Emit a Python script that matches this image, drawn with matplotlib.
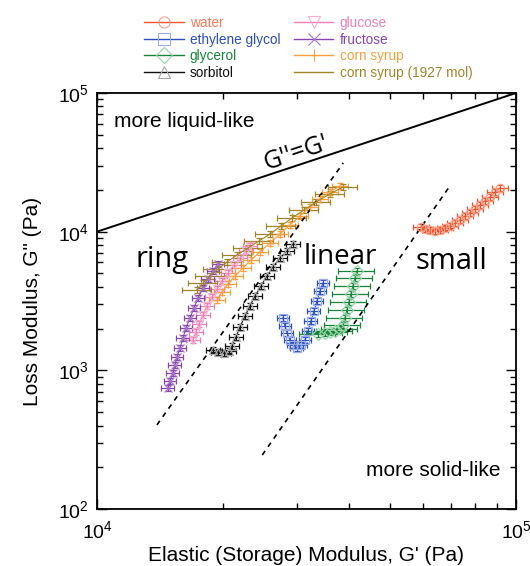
import numpy as np
import matplotlib.pyplot as plt
from matplotlib.lines import Line2D
from matplotlib.ticker import NullFormatter

plt.rcParams['font.family'] = ['Liberation Sans', 'DejaVu Sans']

# G' (Pa) and G'' (Pa)
water_gp = [59340, 60650, 62340, 64080, 65860, 67700, 69580, 71520, 73510, 75560,
            77660, 79830, 82050, 84330, 86680, 89100, 91580]
water_gpp = [10810, 10450, 10280, 10110, 10280, 10630, 10990, 11550, 12140, 12970,
             13650, 14580, 15590, 16650, 17780, 19330, 20650]

eg_gp = [27800, 28100, 28420, 28880, 29370, 30010, 30690, 31370, 31890, 32410,
         32950, 33500, 34060, 34630]
eg_gpp = [2388, 2089, 1862, 1656, 1524, 1452, 1524, 1656, 1923, 2270,
          2680, 3162, 3734, 4265]

glycerol_gp = [33680, 35010, 35980, 36990, 38020, 38650, 39080, 39510, 39950, 40390,
               40830, 41290, 41740]
glycerol_gpp = [1828, 1862, 1892, 1923, 1987, 2123, 2388, 2725, 3113, 3556,
                4060, 4636, 5210]

sorbitol_gp = [18920, 19450, 20100, 20650, 21000, 21460, 21950, 22560, 23180, 23830,
               24630, 25450, 26300, 27340, 28420, 29370]
sorbitol_gpp = [1403, 1357, 1334, 1380, 1500, 1741, 2055, 2468, 2913, 3436,
                4060, 4800, 5570, 6460, 7260, 8150]

glucose_gp = [16950, 17230, 17520, 17910, 18300, 18820, 19340, 19870, 20540, 21230,
              21950, 22680, 23180]
glucose_gpp = [1656, 1892, 2161, 2508, 2913, 3380, 3865, 4415, 5035, 5750,
               6460, 7260, 7890]

fructose_gp = [14770, 14940, 15180, 15350, 15520, 15780, 16040, 16310, 16670, 17040,
               17420, 17910, 18400, 18920, 19450]
fructose_gpp = [746, 839, 958, 1094, 1250, 1452, 1714, 2023, 2388, 2818,
                3327, 3926, 4560, 5210, 5850]

corn_gp = [19340, 19870, 20540, 21350, 22310, 23310, 24490, 25880, 27340, 28880,
           30520, 32250, 34060, 35980, 38020]
corn_gpp = [3220, 3675, 4200, 4800, 5480, 6250, 7140, 8290, 9620, 11170,
            12970, 15060, 17210, 19330, 21350]

corn1927_gp = [17330, 17910, 18600, 19450, 20430, 21590, 22930, 24360, 25880, 27490,
               29200, 31190, 33330, 35980, 38650]
corn1927_gpp = [3800, 4265, 4800, 5380, 6050, 6790, 7630, 8570, 9620, 10990,
                12550, 14330, 16370, 18700, 21000]

# relative error in G' per series
water_err = 0.045
eg_err = 0.035
glycerol_err = 0.10
sorbitol_err = 0.04
glucose_err = 0.04
fructose_err = 0.035
corn_err = 0.045
corn1927_err = 0.08

# guide lines
dash1_gp = [13900, 38700]
dash1_gpp = [404, 31300]
dash2_gp = [24800, 69500]
dash2_gpp = [245, 21300]

fig = plt.figure(figsize=(5.3, 5.66), dpi=100)
ax = fig.add_axes([97 / 530, 1 - 509 / 566, 419 / 530, 416 / 566])
ax.set_xscale('log')
ax.set_yscale('log')
ax.set_xlim(1e4, 1e5)
ax.set_ylim(1e2, 1e5)

series = [
    ('water', water_gp, water_gpp, water_err, '#f0502a', '#f8a48c', 'o', '#f47a5c'),
    ('ethylene glycol', eg_gp, eg_gpp, eg_err, '#2a4fc0', '#98acec', 's', '#2a4fc0'),
    ('glycerol', glycerol_gp, glycerol_gpp, glycerol_err, '#17843a', '#98d4a8', 'D', '#17843a'),
    ('sorbitol', sorbitol_gp, sorbitol_gpp, sorbitol_err, '#111111', '#a8a8a8', '^', '#111111'),
    ('glucose', glucose_gp, glucose_gpp, glucose_err, '#ee7fb6', '#f6aed0', 'v', '#ee7fb6'),
    ('fructose', fructose_gp, fructose_gpp, fructose_err, '#8a44b0', '#a878c8', 'x', '#8a44b0'),
    ('corn syrup', corn_gp, corn_gpp, corn_err, '#f8a040', '#f8a040', '+', '#f8a040'),
    ('corn syrup (1927 mol)', corn1927_gp, corn1927_gpp, corn1927_err, '#a08628', '#a08628', None, '#a08628'),
]

handles = []
for label, x, y, err, c, mc, m, tc in series:
    x = np.array(x)
    y = np.array(y)
    ax.errorbar(x, y, xerr=x * err, yerr=y * 0.05, fmt='-', color=c, lw=0.8,
                elinewidth=0.9, capsize=2.5, capthick=0.9, marker=m, ms=6,
                mfc='none', mec=mc, mew=0.9)
    handles.append(Line2D([], [], color=c, lw=1.0, marker=m, ms=8, mfc='none',
                          mec=mc, mew=0.8, label=label))

ax.plot(dash1_gp, dash1_gpp, '--', color='black', lw=1.2, dashes=(3, 3))
ax.plot(dash2_gp, dash2_gpp, '--', color='black', lw=1.2, dashes=(3, 3))
ax.plot([1e4, 1e5], [1e4, 1e5], color='black', lw=1.4)

big = dict(family=['Open Sans', 'DejaVu Sans'], color='black', va='center', ha='center')
ax.text(10950, 61800, 'more liquid-like', fontsize=15, va='center')
ax.text(63500, 191, 'more solid-like', fontsize=15, va='center', ha='center')
ax.text(29850, 37000, "G''=G'", fontsize=18, rotation=18.5, **big)
ax.text(14290, 6250, 'ring', fontsize=21, **big)
ax.text(38020, 6580, 'linear', fontsize=20, **big)
ax.text(70300, 6050, 'small', fontsize=21, **big)

ax.xaxis.set_minor_formatter(NullFormatter())
ax.tick_params(which='both', direction='in', top=True, right=True, labelsize=14)
ax.tick_params(axis='x', pad=8)
ax.tick_params(axis='y', pad=6)
ax.tick_params(which='major', length=7, width=1)
ax.tick_params(which='minor', length=4, width=1)
for s in ax.spines.values():
    s.set_linewidth(1.3)

ax.set_xlabel("Elastic (Storage) Modulus, G' (Pa)", fontsize=15, labelpad=3)
ax.set_ylabel('Loss Modulus, G" (Pa)', fontsize=15, labelpad=11)

leg = fig.legend(handles=handles, ncol=2, loc='upper left',
                 bbox_to_anchor=(132 / 530, 1 - 4 / 566), frameon=False,
                 fontsize=9.8, handlelength=2.9, handletextpad=0.45,
                 columnspacing=1.0, labelspacing=0.18)
for t, s in zip(leg.get_texts(), series):
    t.set_color(s[7])

fig.savefig('out.png', dpi=100)
